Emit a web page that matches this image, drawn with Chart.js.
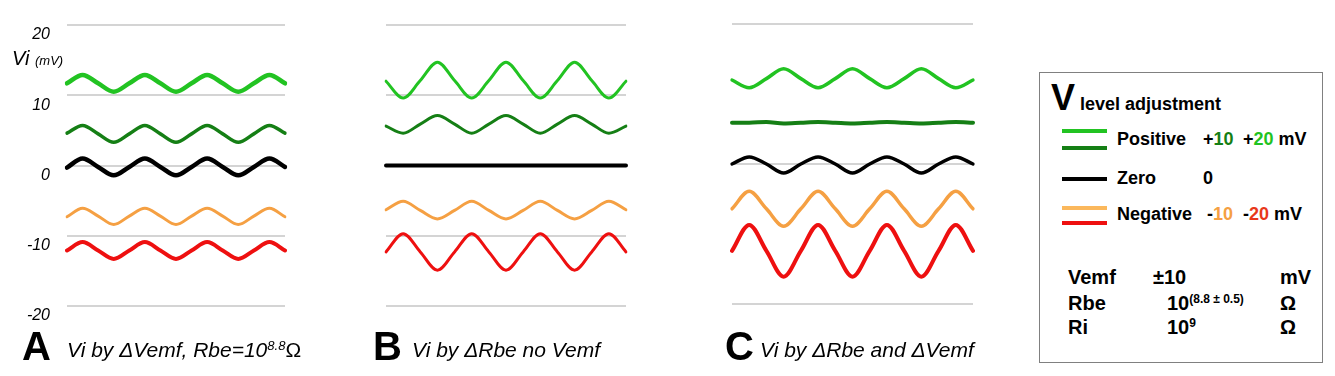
<!DOCTYPE html>
<html>
<head>
<meta charset="utf-8">
<script src="https://cdn.jsdelivr.net/npm/chart.js@4"></script>
<style>
body{margin:0;background:#fff;width:1335px;height:376px;overflow:hidden;position:relative;font-family:"Liberation Sans",Arial,sans-serif;}
canvas{position:absolute;}
.t{position:absolute;line-height:1;white-space:nowrap;color:#000;}
.it{font-style:italic;}
.b{font-weight:bold;}
sup{font-size:0.62em;vertical-align:0.55em;line-height:0;}
.sw{position:absolute;height:4px;width:45px;left:1062px;}
</style>
</head>
<body>
<canvas id="cA" width="289" height="341" style="left:0px;top:-5px"></canvas>
<canvas id="cB" width="252" height="317" style="left:380px;top:13px"></canvas>
<canvas id="cC" width="253" height="316" style="left:726px;top:12px"></canvas>

<div class="t it" style="left:12px;top:48px;font-size:20px">Vi <span style="font-size:13px">(mV)</span></div>

<div class="t b" style="left:22px;top:326px;font-size:40px">A</div>
<div class="t it" style="left:67px;top:339px;font-size:21px">Vi by ΔVemf, Rbe=10<sup>8.8</sup><span style="font-style:normal">Ω</span></div>
<div class="t b" style="left:373px;top:326px;font-size:40px">B</div>
<div class="t it" style="left:412px;top:339px;font-size:21px">Vi by ΔRbe no Vemf</div>
<div class="t b" style="left:725px;top:326px;font-size:40px">C</div>
<div class="t it" style="left:760px;top:339px;font-size:21px">Vi by ΔRbe and ΔVemf</div>

<div style="position:absolute;left:1039px;top:72px;width:282px;height:289px;border:1.5px solid #808080"></div>
<div class="t b" style="left:1051px;top:80px;font-size:36px">V</div>
<div class="t b" style="left:1080px;top:95px;font-size:18px">level adjustment</div>

<div class="sw" style="top:129px;background:#22c322"></div>
<div class="sw" style="top:146px;background:#157f15"></div>
<div class="sw" style="top:177px;background:#000"></div>
<div class="sw" style="top:206px;background:#fbb85c"></div>
<div class="sw" style="top:221px;background:#ee1010"></div>

<div class="t b" style="left:1117px;top:130px;font-size:18px">Positive</div>
<div class="t b" style="left:1203px;top:130px;font-size:18px">+<span style="color:#157f15">10</span></div>
<div class="t b" style="left:1243px;top:130px;font-size:18px">+<span style="color:#22c322">20</span> mV</div>
<div class="t b" style="left:1117px;top:169px;font-size:18px">Zero</div>
<div class="t b" style="left:1203px;top:169px;font-size:18px">0</div>
<div class="t b" style="left:1117px;top:205px;font-size:18px">Negative</div>
<div class="t b" style="left:1207px;top:205px;font-size:18px">-<span style="color:#f5a043">10</span></div>
<div class="t b" style="left:1243px;top:205px;font-size:18px">-<span style="color:#e8381a">20</span> mV</div>

<div class="t b" style="left:1068px;top:267px;font-size:20px">Vemf</div>
<div class="t b" style="left:1153px;top:267px;font-size:20px">±10</div>
<div class="t b" style="left:1280px;top:267px;font-size:20px">mV</div>
<div class="t b" style="left:1068px;top:293px;font-size:20px">Rbe</div>
<div class="t b" style="left:1167px;top:293px;font-size:20px">10<sup style="font-size:12px">(8.8 ± 0.5)</sup></div>
<div class="t b" style="left:1280px;top:293px;font-size:20px">Ω</div>
<div class="t b" style="left:1068px;top:317px;font-size:20px">Ri</div>
<div class="t b" style="left:1167px;top:317px;font-size:20px">10<sup style="font-size:12px">9</sup></div>
<div class="t b" style="left:1280px;top:317px;font-size:20px">Ω</div>

<script>
// sample points, a quarter wave apart
const steps = ['0','1','2','3','4','5','6','7','8','9','10','11','12','13','14'];
const yTicks = [-20, -10, 0, 10, 20];

// panel A: Vi by dVemf
const aPos20 = [11.7, 12.9, 11.7, 10.5, 11.7, 12.9, 11.7, 10.5, 11.7, 12.9, 11.7, 10.5, 11.7, 12.9, 11.7];
const aPos10 = [4.6, 5.7, 4.5, 3.3, 4.5, 5.7, 4.5, 3.3, 4.5, 5.7, 4.5, 3.3, 4.5, 5.7, 4.6];
const aZero = [-0.3, 1.0, -0.2, -1.4, -0.2, 1.0, -0.2, -1.4, -0.2, 1.0, -0.2, -1.4, -0.2, 1.0, -0.2];
const aNeg10 = [-7.3, -6.1, -7.2, -8.4, -7.2, -6.1, -7.2, -8.4, -7.2, -6.1, -7.2, -8.4, -7.2, -6.1, -7.3];
const aNeg20 = [-12.1, -10.9, -12.1, -13.3, -12.1, -10.9, -12.1, -13.3, -12.1, -10.9, -12.1, -13.3, -12.1, -10.9, -12.1];

// panel B: Vi by dRbe, no Vemf
const bPos20 = [12.0, 9.6, 12.1, 14.7, 12.1, 9.6, 12.1, 14.7, 12.1, 9.6, 12.1, 14.7, 12.1, 9.6, 12.0];
const bPos10 = [5.6, 4.6, 5.9, 7.1, 5.9, 4.6, 5.9, 7.1, 5.9, 4.6, 5.9, 7.1, 5.9, 4.6, 5.6];
const bZero = [0, 0, 0, 0, 0, 0, 0, 0, 0, 0, 0, 0, 0, 0, 0];
const bNeg10 = [-6.3, -5.1, -6.4, -7.6, -6.4, -5.1, -6.4, -7.6, -6.4, -5.1, -6.4, -7.6, -6.4, -5.1, -6.3];
const bNeg20 = [-12.3, -9.7, -12.3, -14.9, -12.3, -9.7, -12.3, -14.9, -12.3, -9.7, -12.3, -14.9, -12.3, -9.7, -12.3];

// panel C: Vi by dRbe and dVemf
const cPos20 = [12.0, 10.9, 12.2, 13.6, 12.2, 10.9, 12.2, 13.6, 12.2, 10.9, 12.2, 13.6, 12.2, 10.9, 12.0];
const cPos10 = [5.9, 5.9, 6.0, 5.8, 5.9, 6.0, 5.9, 5.8, 5.9, 6.0, 5.9, 5.8, 5.9, 6.0, 5.9];
const cZero = [0, 1.0, 0, -1.3, 0, 1.0, 0, -1.3, 0, 1.0, 0, -1.3, 0, 1.0, 0];
const cNeg10 = [-6.4, -3.9, -6.4, -8.9, -6.4, -3.9, -6.4, -8.9, -6.4, -3.9, -6.4, -8.9, -6.4, -3.9, -6.4];
const cNeg20 = [-12.4, -8.7, -12.4, -16.1, -12.4, -8.7, -12.4, -16.1, -12.4, -8.7, -12.4, -16.1, -12.4, -8.7, -12.4];

const colors = ['#22c322', '#157f15', '#000000', '#f5a043', '#ee1010'];

function line(d, i, w){
  return {data: d, borderColor: colors[i], borderWidth: w, pointRadius: 0,
    cubicInterpolationMode: 'monotone', borderCapStyle: 'round', borderJoinStyle: 'round', fill: false};
}

function panel(id, sets, widths, axisW, pad, showTicks, gridAll){
  return new Chart(document.getElementById(id), {
    type: 'line',
    data: { labels: steps, datasets: sets.map((s, i) => line(s, i, widths[i])) },
    options: {
      responsive: false,
      animation: false,
      events: [],
      layout: { padding: pad },
      plugins: { legend: { display: false }, tooltip: { enabled: false } },
      scales: {
        x: { display: false },
        y: {
          min: yTicks[0], max: yTicks[yTicks.length - 1],
          afterFit: s => { s.width = axisW; },
          afterBuildTicks: s => { s.ticks = yTicks.map(v => ({value: v})); },
          border: { display: false },
          grid: {
            drawTicks: false, lineWidth: 2,
            color: c => (gridAll || c.tick.value % 20 === 0) ? '#d4d4d4' : 'rgba(0,0,0,0)'
          },
          ticks: {
            display: showTicks, padding: 17, labelOffset: 10, color: '#000',
            font: { family: '"Liberation Sans", Arial, sans-serif', size: 16, style: 'italic' }
          }
        }
      }
    }
  });
}

panel('cA', [aPos20, aPos10, aZero, aNeg10, aNeg20], [4.5, 3.5, 4.5, 3, 4], 67,
  {left: 0, right: 4, top: 30, bottom: 30}, true, true);
panel('cB', [bPos20, bPos10, bZero, bNeg10, bNeg20], [3, 3, 4, 3, 3], 0,
  {left: 6, right: 6, top: 12, bottom: 24}, false, true);
panel('cC', [cPos20, cPos10, cZero, cNeg10, cNeg20], [3.5, 4, 3.5, 3.5, 4], 0,
  {left: 6, right: 6, top: 12, bottom: 24}, false, false);
</script>
</body>
</html>
